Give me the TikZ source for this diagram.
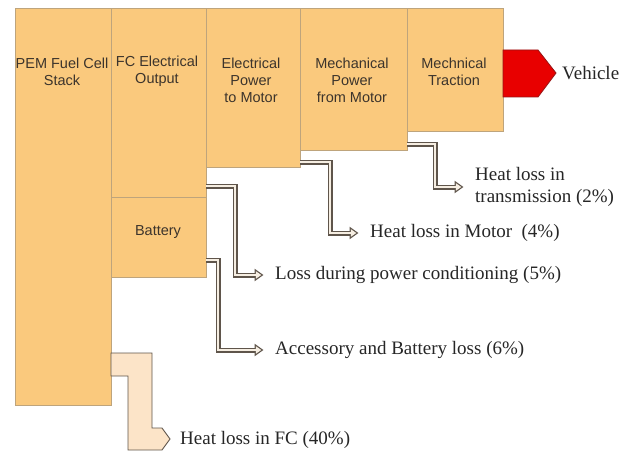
\documentclass[tikz,border=0pt]{standalone}
\usepackage{fontspec}
\setmainfont{Liberation Serif}
\setsansfont{Liberation Sans}
\usetikzlibrary{arrows.meta}
\definecolor{boxfill}{RGB}{250,201,125}
\definecolor{boxline}{RGB}{190,164,124}
\definecolor{heatfill}{RGB}{252,228,200}
\definecolor{lossline}{RGB}{95,85,75}
\definecolor{lossfill}{RGB}{246,238,226}
\definecolor{vred}{RGB}{232,0,0}
\definecolor{vredline}{RGB}{150,20,20}
\definecolor{boxtext}{RGB}{60,52,44}
\begin{document}
\begin{tikzpicture}[x=1pt,y=-1pt,
 box/.style={draw=boxline, fill=boxfill, line width=0.8pt, anchor=north west, inner sep=0pt, outer sep=0pt},
 boxlabel/.style={font=\sffamily\fontsize{14.5}{17}\selectfont, text=boxtext, align=center, inner sep=0pt},
 losslabel/.style={font=\fontsize{19}{22}\selectfont, text=black!85, align=left, anchor=west, inner sep=0pt},
 lossarrow/.style={draw=lossline, line width=5pt, line join=miter, shorten >=11.5pt,
   -{Triangle[length=9pt,width=12pt]},
   postaction={draw=lossfill, line width=2.4pt, shorten >=13.7pt, -{Triangle[length=5.5pt,width=7.3pt]}}},
 heatshape/.style={draw=lossline, fill=heatfill, line width=0.9pt},
 vehshape/.style={draw=vredline, fill=vred, line width=0.8pt}
]
\useasboundingbox (0,0) rectangle (635,452);
% boxes
\node[box, minimum width=96pt, minimum height=397pt] (pem) at (15,8) {};
\node[box, minimum width=95pt, minimum height=189pt] (fcout) at (111,8) {};
\node[box, minimum width=95pt, minimum height=80pt] (battery) at (111,197) {};
\node[box, minimum width=94pt, minimum height=159pt] (elec) at (206,8) {};
\node[box, minimum width=107pt, minimum height=142pt] (mech) at (300,8) {};
\node[box, minimum width=96pt, minimum height=123pt] (trac) at (407,8) {};
% box labels
\node[boxlabel] (pemtxt) at (62,71.5) {PEM Fuel Cell\\Stack};
\node[boxlabel] (fctxt) at (157,71.5) {FC Electrical\\Output};
\node[boxlabel] (battxt) at (158,232) {Battery};
\node[boxlabel] (electxt) at (251,80) {Electrical\\Power\\to Motor};
\node[boxlabel] (mechtxt) at (352,80) {Mechanical\\Power\\from Motor};
\node[boxlabel] (tractxt) at (454,71.5) {Mechnical\\Traction};
% vehicle arrow
\draw[vehshape] (503,50) -- (538,50) -- (556,73) -- (538,97) -- (503,97) -- cycle;
\node[losslabel] (veh) at (562,73) {Vehicle};
% heat loss in FC
\draw[heatshape] (111,353) -- (152,353) -- (152,428) -- (162,428) -- (170,439) -- (162,450) -- (128,450) -- (128,376) -- (111,376) -- cycle;
\node[losslabel] (fcheat) at (180,440) {Heat loss in FC (40\%)};
% loss labels
\node[losslabel] (trans) at (475,187) {Heat loss in\\transmission (2\%)};
\node[losslabel] (motor) at (370,233) {Heat loss in Motor\enspace(4\%)};
\node[losslabel] (cond) at (275,275) {Loss during power conditioning (5\%)};
\node[losslabel] (acc) at (275,350) {Accessory and Battery loss (6\%)};
% loss arrows
\draw[lossarrow] ([yshift=6pt]mech.south east) -- ++(28,0) |- (trans.west);
\draw[lossarrow] ([yshift=5pt]elec.south east) -- ++(30,0) |- (motor.west);
\draw[lossarrow] ([yshift=11pt]fcout.south east) -- ++(29,0) |- (cond.west);
\draw[lossarrow] ([yshift=17pt]battery.south east) -- ++(12,0) |- (acc.west);
\end{tikzpicture}
\end{document}
